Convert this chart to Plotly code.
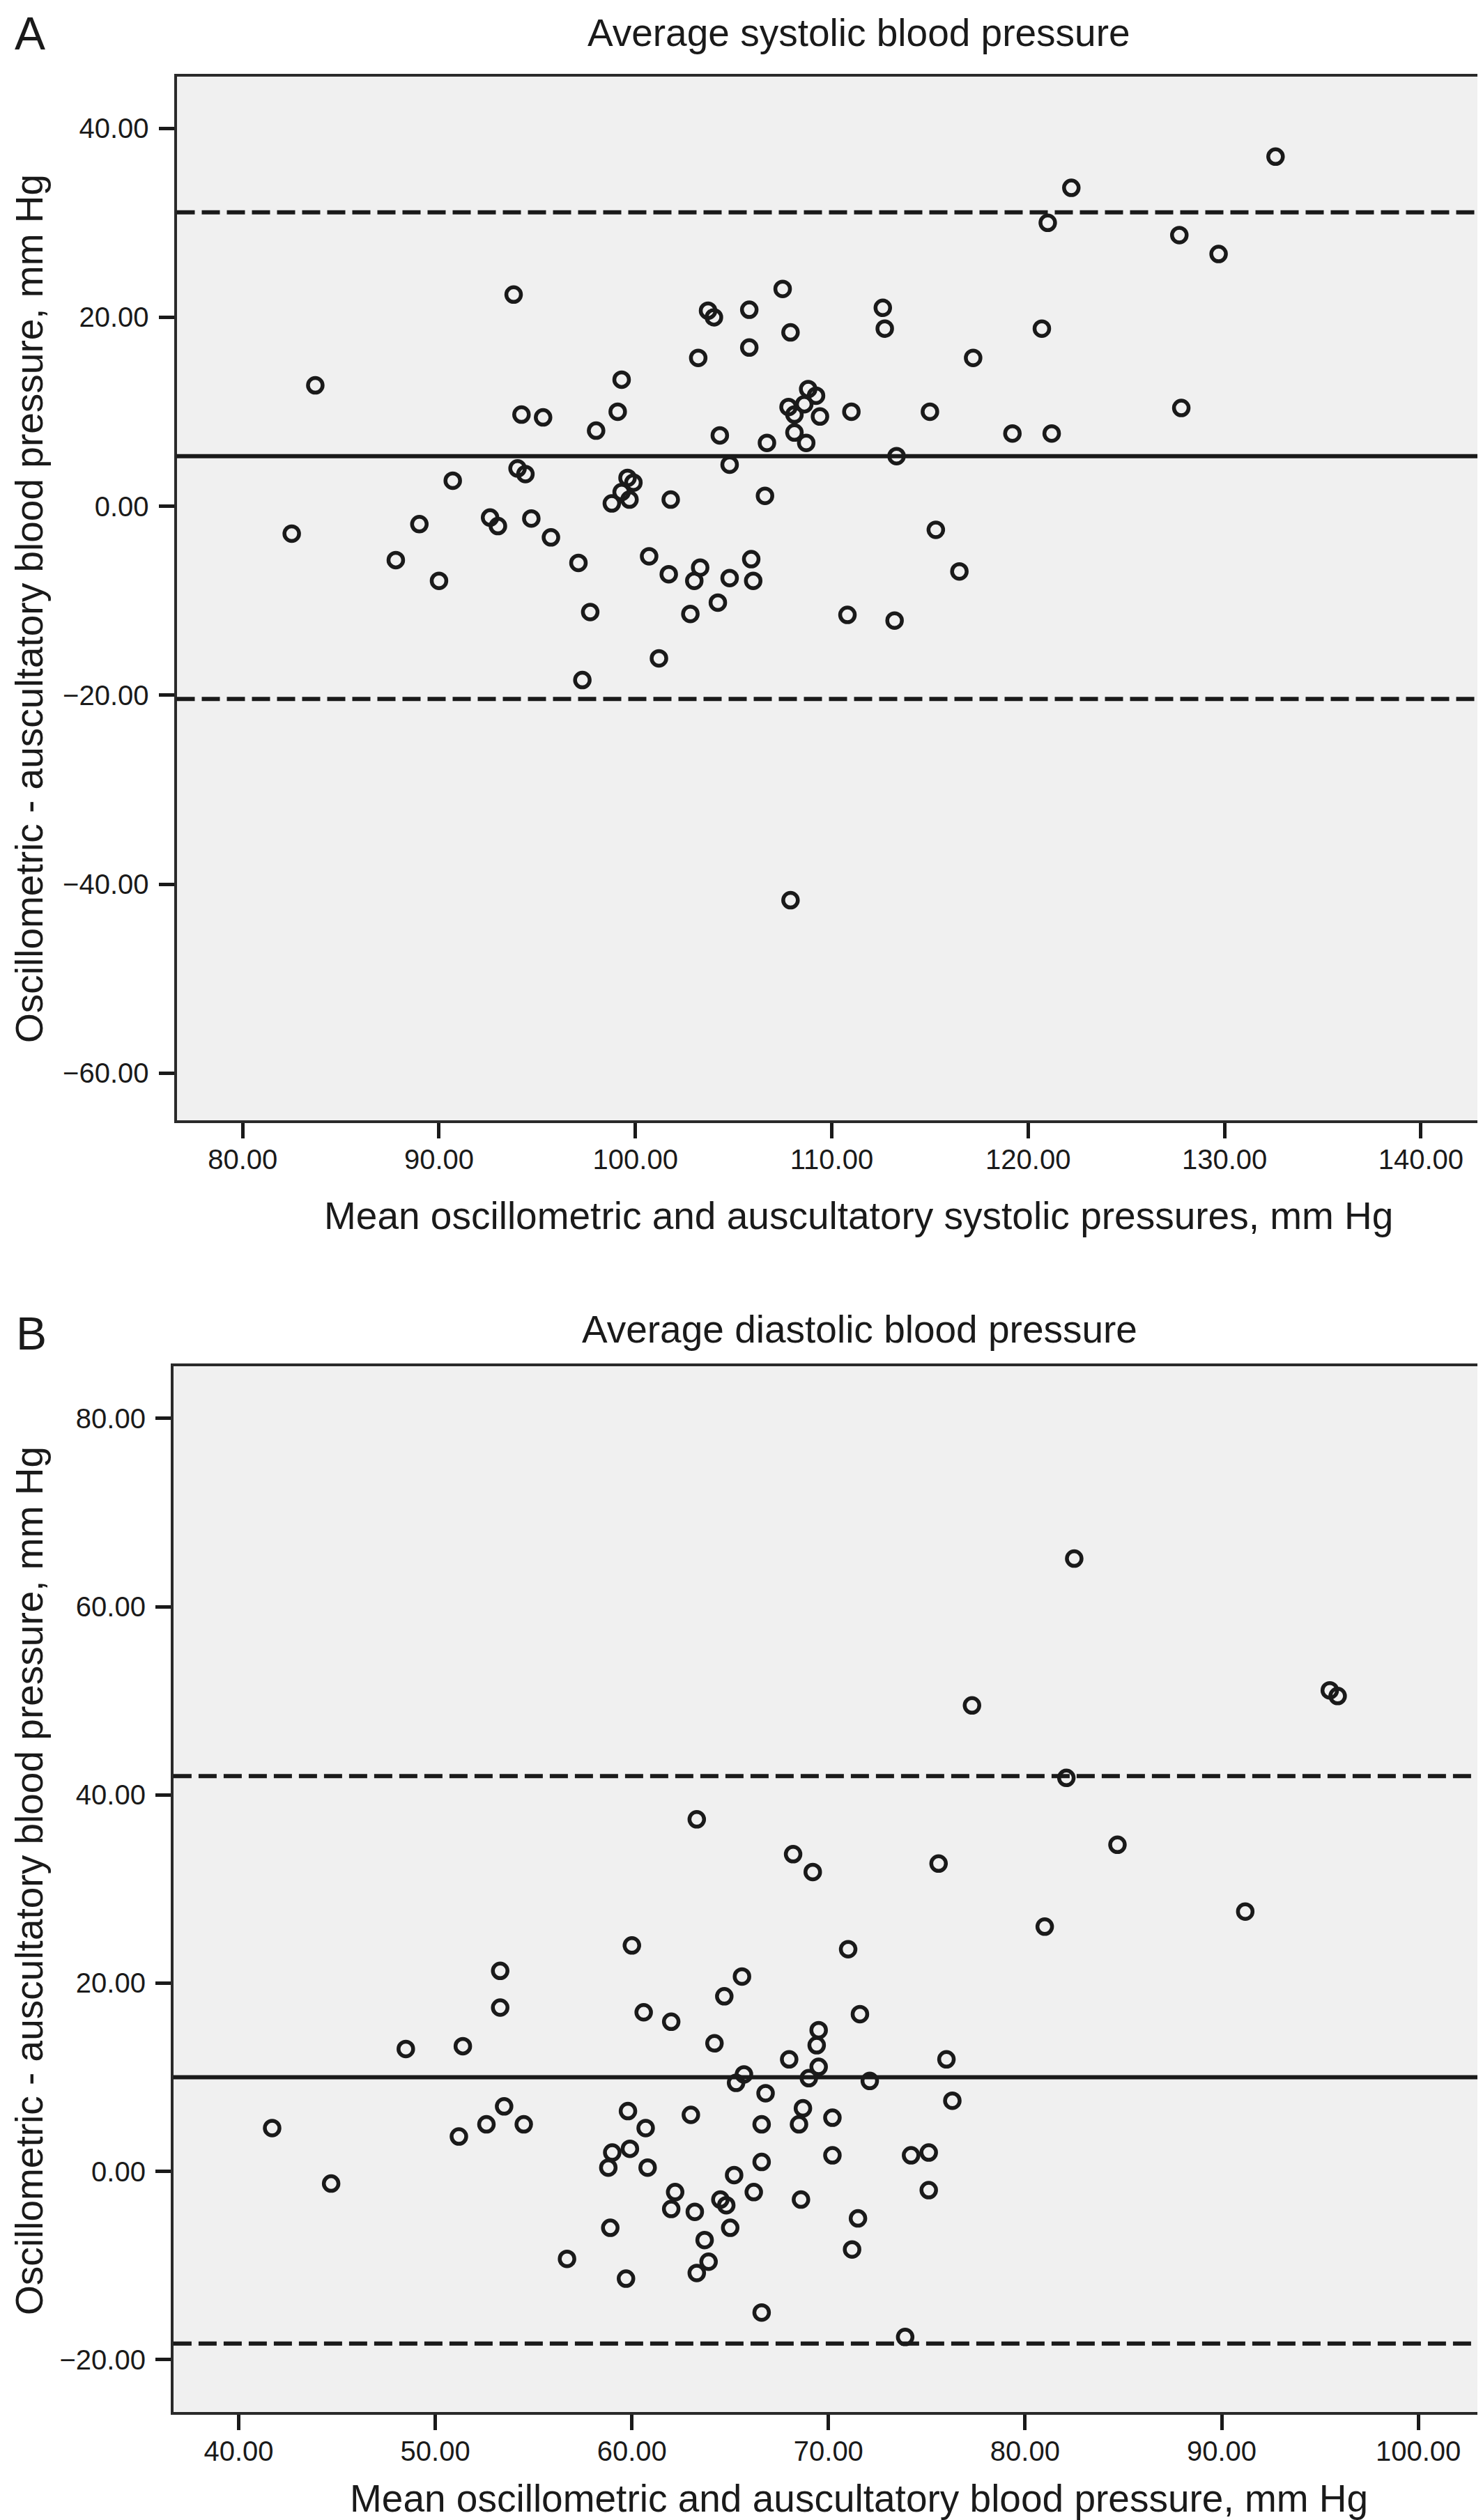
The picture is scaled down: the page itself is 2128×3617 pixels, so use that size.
import plotly.graph_objects as go

# Panel A: systolic Bland-Altman (mean of methods vs difference)
sys_avg = [83.7, 93.8, 82.5, 87.8, 89.0, 90.0, 90.7, 92.6, 93.0, 94.0,
           94.4, 94.2, 95.3, 94.7, 95.7, 97.1, 97.7, 98.0, 99.1, 99.3,
           98.8, 99.3, 99.6, 99.9, 99.7, 100.7, 101.8, 101.7, 103.2, 103.7,
           104.0, 104.3, 104.8, 103.3, 103.0, 104.8, 104.2, 102.8, 105.8, 105.8,
           105.9, 106.0, 97.3, 101.2, 107.9, 132.6, 122.2, 121.0, 127.7, 129.7,
           107.5, 112.6, 112.7, 107.9, 120.7, 117.2, 108.8, 109.2, 107.8, 108.6,
           108.1, 109.4, 111.0, 115.0, 127.8, 108.1, 108.7, 106.7, 119.2, 121.2,
           113.3, 106.6, 115.3, 116.5, 110.8, 113.2]
sys_diff = [12.8, 22.4, -2.9, -5.7, -1.9, -7.9, 2.7, -1.2, -2.1, 4.0,
            3.4, 9.7, 9.4, -1.3, -3.3, -6.0, -11.2, 8.0, 10.0, 13.4,
            0.3, 1.5, 3.0, 2.5, 0.7, -5.3, 0.7, -7.2, 15.7, 20.7,
            20.0, 7.5, 4.4, -6.5, -7.9, -7.6, -10.2, -11.4, 20.8, 16.8,
            -5.6, -7.9, -18.4, -16.1, -41.7, 37.0, 33.7, 30.0, 28.7, 26.7,
            23.0, 21.0, 18.8, 18.4, 18.8, 15.7, 12.4, 11.7, 10.5, 10.8,
            9.7, 9.5, 10.0, 10.0, 10.4, 7.8, 6.7, 6.7, 7.7, 7.7,
            5.3, 1.1, -2.5, -6.9, -11.5, -12.1]
sys_bias = 5.3
sys_loa = [31.1, -20.4]

# Panel B: diastolic
dia_avg = [63.3, 82.5, 77.3, 95.5, 95.9, 82.1, 84.7, 68.2, 69.2, 75.6,
           60.0, 53.3, 53.3, 60.6, 62.0, 64.7, 65.6, 64.2, 48.5, 51.4,
           65.3, 65.7, 41.7, 44.7, 51.2, 52.6, 53.5, 54.5, 56.7, 59.8,
           60.7, 59.0, 59.9, 58.8, 60.8, 63.0, 58.9, 59.7, 62.2, 62.0,
           63.2, 63.7, 63.9, 63.3, 64.5, 64.8, 65.2, 65.0, 91.2, 81.0,
           71.0, 71.6, 69.5, 69.4, 68.0, 76.0, 69.5, 69.0, 72.1, 66.8,
           76.3, 68.7, 68.5, 66.6, 70.2, 66.6, 70.2, 74.2, 75.1, 66.2,
           68.6, 75.1, 71.5, 71.2, 66.6, 73.9]
dia_diff = [37.4, 65.1, 49.5, 51.1, 50.5, 41.8, 34.7, 33.7, 31.8, 32.7,
            24.0, 21.3, 17.4, 16.9, 15.9, 18.6, 20.7, 13.6, 13.0, 13.3,
            9.4, 10.3, 4.6, -1.3, 3.7, 5.0, 6.9, 5.0, -9.3, 6.4,
            4.6, 2.0, 2.4, 0.4, 0.4, 6.0, -6.0, -11.4, -2.2, -4.0,
            -4.3, -7.3, -9.6, -10.8, -3.0, -3.6, -0.4, -6.0, 27.6, 26.0,
            23.6, 16.7, 15.0, 13.4, 11.9, 11.9, 11.1, 9.9, 9.6, 8.3,
            7.5, 6.7, 5.0, 5.0, 5.7, 1.0, 1.7, 1.7, 2.0, -2.2,
            -3.0, -2.0, -5.0, -8.3, -15.0, -17.6]
dia_bias = 10.0
dia_loa = [42.0, -18.3]

sys_xticks = [80, 90, 100, 110, 120, 130, 140]
sys_yticks = [40, 20, 0, -20, -40, -60]
dia_xticks = [40, 50, 60, 70, 80, 90, 100]
dia_yticks = [80, 60, 40, 20, 0, -20]

W, H = 2128, 3617
INK = "#1a1a1a"
FONT = "Liberation Sans, Arial, sans-serif"


def px(x):
    return x / W


def py(y):
    return 1 - y / H


fig = go.Figure()

marker = dict(symbol="circle-open", size=21, color=INK, line=dict(width=5.5, color=INK))
fig.add_trace(go.Scatter(x=sys_avg, y=sys_diff, mode="markers", marker=marker,
                         xaxis="x", yaxis="y", showlegend=False))
fig.add_trace(go.Scatter(x=dia_avg, y=dia_diff, mode="markers", marker=marker,
                         xaxis="x2", yaxis="y2", showlegend=False))

# bias (solid) and limits of agreement (dashed)
for yref, xref, bias, loa in [("y", "x", sys_bias, sys_loa), ("y2", "x2", dia_bias, dia_loa)]:
    fig.add_shape(type="line", xref=f"{xref} domain", yref=yref, x0=0, x1=1, y0=bias, y1=bias,
                  line=dict(color=INK, width=6))
    for v in loa:
        fig.add_shape(type="line", xref=f"{xref} domain", yref=yref, x0=0, x1=1, y0=v, y1=v,
                      line=dict(color=INK, width=6, dash="26px,10px"))

axis_common = dict(
    showline=True, linewidth=4, linecolor="#2a2a2a", mirror=True,
    ticks="outside", ticklen=22, tickwidth=5, tickcolor=INK,
    showgrid=False, zeroline=False, tickformat=".2f",
    tickfont=dict(family=FONT, size=40, color=INK),
)

fig.update_layout(
    width=W, height=H,
    margin=dict(l=0, r=0, t=0, b=0, pad=0),
    paper_bgcolor="white",
    plot_bgcolor="#f0f0f0",
    xaxis=dict(domain=[px(245.5), px(2121)], range=[76.64, 143.2], anchor="y",
               tickvals=sys_xticks, ticklabelstandoff=-4, **axis_common),
    yaxis=dict(domain=[py(1600), py(101.6)], range=[-65.0, 45.5], anchor="x",
               tickvals=sys_yticks, ticklabelstandoff=6, **axis_common),
    xaxis2=dict(domain=[px(240.9), px(2123)], range=[36.68, 103.4], anchor="y2",
                tickvals=dia_xticks, ticklabelstandoff=-4, **axis_common),
    yaxis2=dict(domain=[py(3454.4), py(1952.7)], range=[-25.6, 85.56], anchor="x2",
                tickvals=dia_yticks, ticklabelstandoff=6, **axis_common),
)

ytitle = "Oscillometric - auscultatory blood pressure, mm Hg"
texts = [
    ("A", 12, 2, 66, "left", "top", 0),
    ("Average systolic blood pressure", 1224, 39, 55, "center", "middle", 0),
    ("Mean oscillometric and auscultatory systolic pressures, mm Hg", 1224, 1737, 55, "center", "middle", 0),
    (ytitle, 34, 866, 55, "center", "middle", -90),
    ("B", 14, 1906, 66, "left", "middle", 0),
    ("Average diastolic blood pressure", 1225, 1900, 55, "center", "middle", 0),
    ("Mean oscillometric and auscultatory blood pressure, mm Hg", 1224, 3578, 55, "center", "middle", 0),
    (ytitle, 34, 2692, 55, "center", "middle", -90),
]
for text, x, y, size, xanchor, yanchor, angle in texts:
    fig.add_annotation(text=text, xref="paper", yref="paper", x=px(x), y=py(y),
                       xanchor=xanchor, yanchor=yanchor, showarrow=False, textangle=angle,
                       borderpad=0, font=dict(family=FONT, size=size, color=INK))

fig.write_html("out.html")
